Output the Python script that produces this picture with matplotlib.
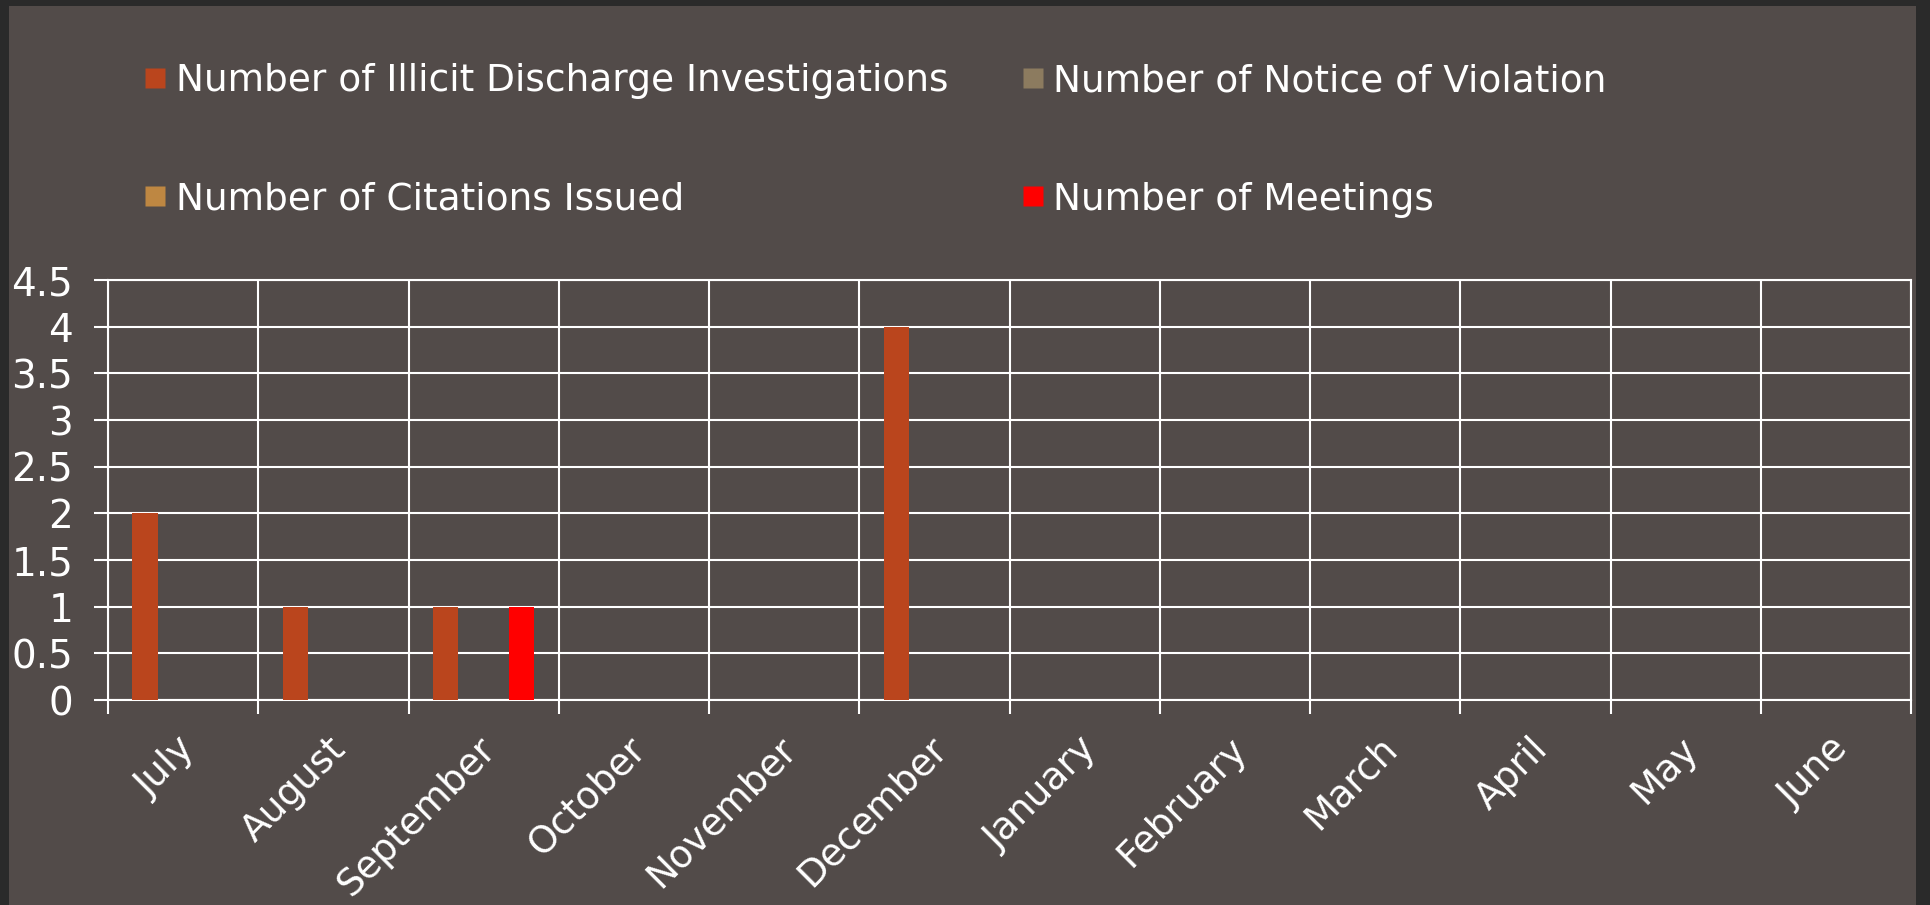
import matplotlib.pyplot as plt
from matplotlib.lines import Line2D
from matplotlib.patches import Rectangle
import numpy as np

# ---- data ----
months = ["July", "August", "September", "October", "November", "December",
          "January", "February", "March", "April", "May", "June"]
series_names = ["Number of Illicit Discharge Investigations",
                "Number of Notice of Violation",
                "Number of Citations Issued",
                "Number of Meetings"]
illicit = [2, 1, 1, 0, 0, 4, 0, 0, 0, 0, 0, 0]
notice_violation = [0, 0, 0, 0, 0, 0, 0, 0, 0, 0, 0, 0]
citations = [0, 0, 0, 0, 0, 0, 0, 0, 0, 0, 0, 0]
meetings = [0, 0, 1, 0, 0, 0, 0, 0, 0, 0, 0, 0]
y_ticks = [0, 0.5, 1, 1.5, 2, 2.5, 3, 3.5, 4, 4.5]

colors = ["#BA451D", "#8C7B5F", "#BE8742", "#FF0000"]
bg_outer = "#2a2a2a"
bg_panel = "#524b49"
fg = "white"

plt.rcParams['font.family'] = ['DejaVu Sans']

fig = plt.figure(figsize=(19.31, 9.05), dpi=100, facecolor=bg_outer)
# slide panel behind everything
fig.patches.append(Rectangle((9 / 1931, 0), (1916 - 9) / 1931, 1 - 6 / 905,
                             transform=fig.transFigure, facecolor=bg_panel,
                             edgecolor='none', zorder=-10))

ax = fig.add_axes([108 / 1931, 1 - 700 / 905, (1911 - 108) / 1931, 420 / 905])
ax.set_facecolor('none')

x = np.arange(len(months))
w = 0.169
all_series = [illicit, notice_violation, citations, meetings]
for i, vals in enumerate(all_series):
    ax.bar(x + (i - 1.5) * w, vals, width=w, color=colors[i], zorder=3,
           linewidth=0)

ax.set_xlim(-0.5, len(months) - 0.5)
ax.set_ylim(0, 4.5)
ax.set_yticks(y_ticks)
ax.set_yticklabels([f"{t:g}" for t in y_ticks])

# month labels sit a touch left of the category centre
ax.set_xticks(x - 0.04)
ax.set_xticklabels(months, rotation=45, ha='right', va='top',
                   rotation_mode='anchor')
ax.set_xticks(np.arange(-0.5, len(months)), minor=True)

ax.tick_params(axis='x', which='major', length=0, pad=22, labelsize=27,
               colors=fg)
ax.tick_params(axis='x', which='minor', length=10, width=1.5, color=fg)
ax.tick_params(axis='y', which='major', length=10, width=1.5, color=fg,
               labelsize=28, labelcolor=fg, pad=15)

ax.grid(True, axis='y', which='major', color=fg, linewidth=1.5, zorder=1)
ax.grid(True, axis='x', which='minor', color=fg, linewidth=1.5, zorder=1)
for s in ax.spines.values():
    s.set_color(fg)
    s.set_linewidth(1.5)

handles = [Line2D([], [], linestyle='none', marker='s', markersize=14,
                  markerfacecolor=c, markeredgecolor='none') for c in colors]
order = [0, 2, 1, 3]
fig.legend([handles[i] for i in order], [series_names[i] for i in order],
           ncol=2, loc='upper left', bbox_to_anchor=(140 / 1931, 1 - 63 / 905),
           frameon=False, fontsize=27, labelcolor=fg, handlelength=0.8,
           handletextpad=0.15, columnspacing=1.85, labelspacing=2.2,
           borderpad=0, borderaxespad=0)

fig.savefig("out.png", dpi=100, facecolor=fig.get_facecolor())
